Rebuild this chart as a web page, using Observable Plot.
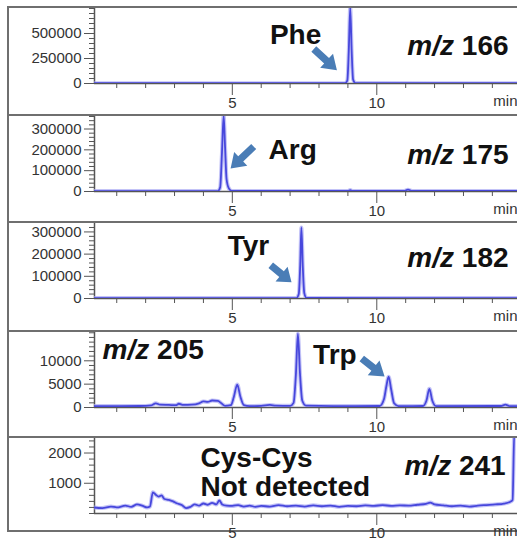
<!DOCTYPE html>
<html>
<head>
<meta charset="utf-8">
<script src="https://cdn.jsdelivr.net/npm/d3@7"></script>
<script src="https://cdn.jsdelivr.net/npm/@observablehq/plot@0.6"></script>
<style>
  html, body { margin: 0; padding: 0; background: #fff; overflow: hidden; }
  body { width: 517px; height: 544px; font-family: "Liberation Sans", Arial, sans-serif; }
  #chart { position: absolute; left: 7px; top: 6px; width: 510px; }
  .box { box-sizing: border-box; border-top: 2px solid #6f6f6f; border-left: 2px solid #6f6f6f; position: relative; overflow: visible; }
  .box.last { border-bottom: 2px solid #6f6f6f; }
  .box svg { display: block; overflow: visible; position: absolute; left: 0; top: 0; }
</style>
</head>
<body>
<div id="chart"></div>
<script>
// ---------- DATA ----------
// m/z channels
const mzValues = ["166", "175", "182", "205", "241"];

// retention time (min) / intensity for each extracted-ion chromatogram
const t166 = [0.2, 3.0, 6.0, 8.9, 8.98, 9.03, 9.08, 9.13, 9.18, 9.26, 12.0, 14.9];
const i166 = [3000, 3000, 3000, 3000, 30000, 320000, 760000, 330000, 40000, 4000, 3000, 3000];

const t175 = [0.2, 2.5, 4.5, 4.58, 4.64, 4.70, 4.75, 4.80, 4.88, 4.98, 9.0, 9.08, 9.16, 10.95, 11.08, 11.22, 14.9];
const i175 = [2000, 2000, 2000, 20000, 180000, 365000, 210000, 60000, 15000, 3000, 3000, 7000, 3000, 3000, 9000, 3000, 3000];

const t182 = [0.2, 3.0, 7.22, 7.30, 7.35, 7.39, 7.44, 7.49, 7.57, 11.0, 14.9];
const i182 = [2000, 2000, 2000, 20000, 150000, 320000, 140000, 25000, 2500, 2000, 2000];

const t205 = [0.2, 1.0, 1.8, 2.2, 2.35, 2.5, 2.8, 3.05, 3.15, 3.3, 3.6, 3.85, 4.0, 4.15, 4.3, 4.5, 4.62, 4.75, 4.95, 5.05, 5.17, 5.28, 5.4, 5.6, 6.0, 6.3, 6.5, 7.0, 7.12, 7.2, 7.27, 7.34, 7.42, 7.55, 8.5, 10.1, 10.25, 10.33, 10.41, 10.5, 10.6, 10.75, 11.6, 11.72, 11.82, 11.92, 12.05, 14.3, 14.45, 14.6, 14.9];
const i205 = [300, 300, 320, 450, 900, 600, 550, 500, 800, 550, 600, 900, 1300, 1200, 1500, 1400, 900, 350, 500, 2200, 4900, 2300, 500, 300, 350, 550, 400, 350, 1000, 7000, 15800, 7500, 1500, 400, 300, 320, 1800, 4500, 6600, 3800, 900, 300, 320, 1500, 4000, 1500, 300, 320, 600, 300, 300];

const t241 = [0.2, 0.5, 0.8, 1.0, 1.3, 1.5, 1.7, 1.9, 2.05, 2.15, 2.25, 2.35, 2.45, 2.55, 2.65, 2.8, 2.95, 3.1, 3.25, 3.4, 3.55, 3.7, 3.85, 4.0, 4.15, 4.3, 4.45, 4.55, 4.65, 4.8, 5.0, 5.2, 5.4, 5.6, 5.8, 6.0, 6.3, 6.6, 6.9, 7.2, 7.5, 7.8, 8.1, 8.4, 8.7, 9.0, 9.3, 9.6, 9.9, 10.2, 10.5, 10.8, 11.1, 11.4, 11.7, 11.85, 12.0, 12.3, 12.6, 12.9, 13.2, 13.5, 13.8, 14.1, 14.4, 14.6, 14.7, 14.76, 14.9];
const i241 = [200, 180, 230, 200, 260, 220, 300, 250, 200, 230, 700, 620, 560, 600, 480, 450, 400, 330, 280, 180, 220, 300, 260, 330, 290, 350, 300, 430, 300, 260, 250, 280, 230, 260, 220, 250, 230, 280, 240, 260, 230, 270, 240, 260, 220, 250, 240, 270, 250, 280, 250, 270, 260, 290, 320, 360, 300, 270, 240, 260, 230, 260, 280, 300, 330, 380, 450, 2700, 2700];

const traceTimes = [t166, t175, t182, t205, t241];
const traceInts  = [i166, i175, i182, i205, i241];

// labelled y-axis ticks
const yTicks = [
  [0, 250000, 500000],
  [0, 100000, 200000, 300000],
  [0, 100000, 200000, 300000],
  [0, 5000, 10000],
  [1000, 2000]
];
// labelled x-axis ticks (min)
const xTicks = [5, 10];

// peak / compound annotations
const peakLabel     = ["Phe", "Arg", "Tyr", "Trp", "Cys-Cys\nNot detected"];
const peakLabelTime = [7.19, 7.09, 5.56, 8.55, 3.9];
const peakLabelInt  = [493000, 202000, 240000, 11300, 1370];

const mzLabelTime = [14.56, 14.56, 14.56, 0.51, 14.46];
const mzLabelInt  = [373000, 173000, 181000, 12200, 1560];

// arrows: tail (time, intensity) -> head (time, intensity)
const arrowTail = [[7.82, 345000], [5.74, 216000], [6.33, 150000], [9.48, 10500], null];
const arrowHead = [[8.62, 133000], [4.94, 110000], [7.05, 73000], [10.27, 6640], null];

// ---------- LAYOUT / STYLE ----------
const yMax       = [750000, 360000, 338000, 16060, 2480];
const yMinorStep = [50000, 20000, 20000, 1000, 200];
const boxHeight  = [108, 107, 109, 106, 96];
const peakAnchor = ["middle", "middle", "middle", "middle", "start"];
const mzAnchor   = ["end", "end", "end", "start", "end"];
const xDomain = [0.23, 14.87];

const FONT = '"Liberation Sans", Arial, Helvetica, sans-serif';
const LINE = "#4747dc";
const HALO = "#a9a9f3";
const ARROW = "#4a7db6";
const AXIS = "#555";
const TICKTEXT = "#333";

const chart = document.getElementById("chart");
const minorX = d3.range(1, 15).filter(d => !xTicks.includes(d));
const ns = "http://www.w3.org/2000/svg";

// turn Plot's arrow into a filled block arrow (same endpoints)
function blockArrow(path) {
  const n = (path.getAttribute("d") || "").match(/-?\d*\.?\d+(e-?\d+)?/g);
  if (!n || n.length < 4) return;
  const [x1, y1, x2, y2] = n.slice(0, 4).map(Number);
  const L = Math.hypot(x2 - x1, y2 - y1);
  const ux = (x2 - x1) / L, uy = (y2 - y1) / L, nx = -uy, ny = ux;
  const w = 3.6, hw = 9.5, hl = Math.min(14, L * 0.48);
  const bx = x2 - ux * hl, by = y2 - uy * hl;
  const p = [
    [x1 + nx * w, y1 + ny * w], [bx + nx * w, by + ny * w], [bx + nx * hw, by + ny * hw],
    [x2, y2],
    [bx - nx * hw, by - ny * hw], [bx - nx * w, by - ny * w], [x1 - nx * w, y1 - ny * w]
  ];
  path.setAttribute("d", "M" + p.map(q => q[0].toFixed(2) + "," + q[1].toFixed(2)).join("L") + "Z");
  path.setAttribute("fill", ARROW);
  path.setAttribute("stroke", "none");
}

mzValues.forEach((mz, k) => {
  const trace = traceTimes[k].map((t, i) => ({t, v: traceInts[k][i]}));
  const yMinor = d3.range(0, yMax[k] + 1, yMinorStep[k]).filter(d => !yTicks[k].includes(d));
  const peaks = [{label: peakLabel[k], t: peakLabelTime[k], v: peakLabelInt[k]}];
  const mzl = [{label: "m/z " + mz, t: mzLabelTime[k], v: mzLabelInt[k]}];
  const arrows = arrowTail[k] ? [{x1: arrowTail[k][0], y1: arrowTail[k][1], x2: arrowHead[k][0], y2: arrowHead[k][1]}] : [];

  const svg = Plot.plot({
    width: 508,
    height: 106,
    marginLeft: 85,
    marginRight: 0,
    marginTop: 0,
    marginBottom: 31,
    style: {background: "transparent", overflow: "visible", fontFamily: FONT},
    x: {type: "linear", domain: xDomain},
    y: {type: "linear", domain: [0, yMax[k]], label: null},
    marks: [
      // minor ticks
      Plot.axisY(yMinor, {tickSize: 5, tickFormat: () => "", stroke: AXIS, label: null}),
      Plot.axisX(minorX, {tickSize: 5, tickFormat: () => "", stroke: AXIS, label: null}),
      // major ticks
      Plot.axisY(yTicks[k], {tickSize: 10, tickPadding: 3, tickFormat: d3.format("d"),
                  fontSize: 15, fill: TICKTEXT, stroke: AXIS, label: null}),
      Plot.axisX(xTicks, {tickSize: 12, tickPadding: 2, tickFormat: d3.format("d"),
                  fontSize: 15, fill: TICKTEXT, stroke: AXIS, label: null}),
      Plot.text(["min"], {frameAnchor: "bottom-right", textAnchor: "end", dy: 22, fontSize: 15, fill: TICKTEXT}),
      // axis lines
      Plot.ruleX([xDomain[0]], {stroke: AXIS, strokeWidth: 1.5}),
      Plot.ruleY([0], {stroke: AXIS, strokeWidth: 1.5}),
      // chromatogram
      Plot.line(trace, {x: "t", y: "v", stroke: HALO, strokeWidth: 4, strokeOpacity: 0.7, curve: "monotone-x", clip: true}),
      Plot.line(trace, {x: "t", y: "v", stroke: LINE, strokeWidth: 1.8, curve: "monotone-x", clip: true}),
      // annotations
      Plot.arrow(arrows, {x1: "x1", y1: "y1", x2: "x2", y2: "y2", stroke: ARROW, strokeWidth: 7}),
      Plot.text(peaks, {x: "t", y: "v", text: "label", textAnchor: peakAnchor[k], fontSize: 28,
                        fontWeight: "bold", fill: "#111", lineHeight: 1.05}),
      Plot.text(mzl, {x: "t", y: "v", text: "label", textAnchor: mzAnchor[k], fontSize: 28,
                      fontWeight: "bold", fill: "#111"})
    ]
  });

  // italicise "m/z"
  svg.querySelectorAll("text").forEach(t => {
    const s = t.textContent;
    if (s.startsWith("m/z ")) {
      t.textContent = "";
      const a = document.createElementNS(ns, "tspan");
      a.setAttribute("font-style", "italic");
      a.textContent = "m/z";
      const b = document.createElementNS(ns, "tspan");
      b.textContent = "\u00a0" + s.slice(4);
      t.appendChild(a);
      t.appendChild(b);
    }
  });
  svg.querySelectorAll('g[aria-label="arrow"] path').forEach(blockArrow);

  const box = document.createElement("div");
  box.className = "box" + (k === mzValues.length - 1 ? " last" : "");
  box.style.height = boxHeight[k] + "px";
  box.appendChild(svg);
  chart.appendChild(box);
});
</script>
</body>
</html>
